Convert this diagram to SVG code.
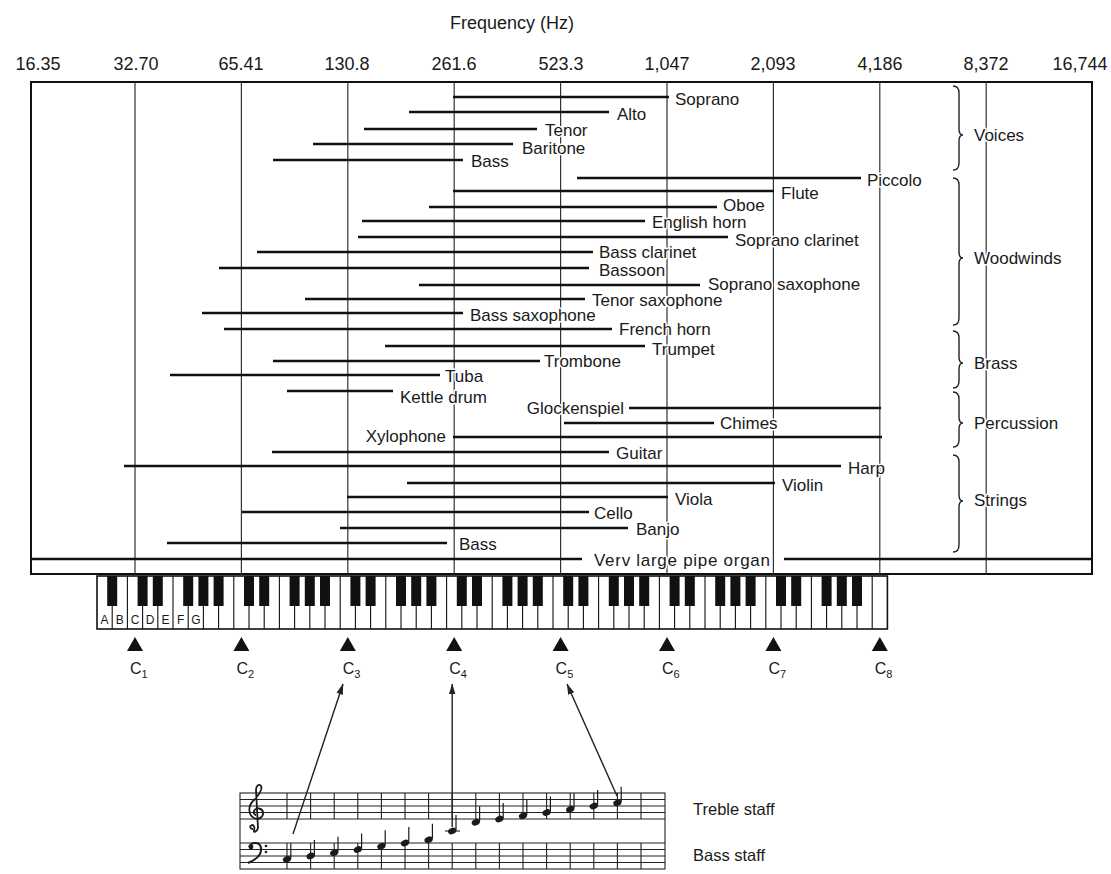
<svg xmlns="http://www.w3.org/2000/svg" width="1111" height="874" viewBox="0 0 1111 874">
<defs>
<style>
text{font-family:"Liberation Sans",Arial,Helvetica,sans-serif;fill:#1a1a1a}
.ax{font-size:18px;text-anchor:middle}
.lb{font-size:17px;paint-order:stroke;stroke:#fff;stroke-width:3px;stroke-linejoin:round}
.end{text-anchor:end}
.rng{stroke:#111;stroke-width:2.6;fill:none}
.grid{stroke:#333;stroke-width:1.2;fill:none}
.frame{stroke:#111;stroke-width:2;fill:none}
.brace{fill:none;stroke:#222;stroke-width:1.4}
.key{font-size:12px;text-anchor:middle}
.cl{font-size:16px}
.cs{font-size:11px}
.bk{fill:#111}
.tri{fill:#111}
.staff{stroke:#222;stroke-width:1.1;fill:none}
.conn{stroke:#222;stroke-width:1.4;fill:none;marker-end:url(#ah)}
.sl{font-size:16.5px}
</style>
<marker id="ah" viewBox="0 0 10 10" refX="9.5" refY="5" markerWidth="11" markerHeight="11" markerUnits="userSpaceOnUse" orient="auto"><path d="M0,2 L10,5 L0,8 z" fill="#222"/></marker>
<g id="q"><ellipse rx="4.3" ry="3.1" transform="rotate(-25)" fill="#1a1a1a"/><path d="M3.8,-1 V-16" stroke="#1a1a1a" stroke-width="1.2"/></g>
</defs>
<rect width="1111" height="874" fill="#fff"/>

<g id="axis">
<text x="512" y="29" class="ax">Frequency (Hz)</text>
<text x="38" y="70" class="ax">16.35</text>
<text x="136" y="70" class="ax">32.70</text>
<text x="241" y="70" class="ax">65.41</text>
<text x="347" y="70" class="ax">130.8</text>
<text x="454" y="70" class="ax">261.6</text>
<text x="561" y="70" class="ax">523.3</text>
<text x="667" y="70" class="ax">1,047</text>
<text x="773" y="70" class="ax">2,093</text>
<text x="880" y="70" class="ax">4,186</text>
<text x="986" y="70" class="ax">8,372</text>
<text x="1080" y="70" class="ax">16,744</text>
</g>

<g id="frame">
<rect x="31" y="82" width="1061" height="492" class="frame"/>
<path class="grid" d="M135,82V574M241.4,82V574M347.8,82V574M454.2,82V574M560.6,82V574M667,82V574M773.4,82V574M879.8,82V574M986.2,82V574"/>
</g>

<g id="ranges">
<g id="soprano"><path class="rng" d="M453,97H669"/><text class="lb" x="675" y="105">Soprano</text></g>
<g id="alto"><path class="rng" d="M409,112H609"/><text class="lb" x="617" y="120">Alto</text></g>
<g id="tenor"><path class="rng" d="M364,129H537"/><text class="lb" x="545" y="136">Tenor</text></g>
<g id="baritone"><path class="rng" d="M313,144H513"/><text class="lb" x="522" y="154">Baritone</text></g>
<g id="bass-voice"><path class="rng" d="M273,160H463"/><text class="lb" x="471" y="167">Bass</text></g>
<g id="piccolo"><path class="rng" d="M577,178H861"/><text class="lb" x="867" y="186">Piccolo</text></g>
<g id="flute"><path class="rng" d="M453,191H774"/><text class="lb" x="781" y="199">Flute</text></g>
<g id="oboe"><path class="rng" d="M429,207H717"/><text class="lb" x="723" y="211">Oboe</text></g>
<g id="english-horn"><path class="rng" d="M362,221H645"/><text class="lb" x="652" y="228">English horn</text></g>
<g id="soprano-clarinet"><path class="rng" d="M358,237H728"/><text class="lb" x="735" y="246">Soprano clarinet</text></g>
<g id="bass-clarinet"><path class="rng" d="M257,252H593"/><text class="lb" x="599" y="258">Bass clarinet</text></g>
<g id="bassoon"><path class="rng" d="M219,268H589"/><text class="lb" x="599" y="276">Bassoon</text></g>
<g id="soprano-saxophone"><path class="rng" d="M419,285H700"/><text class="lb" x="708" y="290">Soprano saxophone</text></g>
<g id="tenor-saxophone"><path class="rng" d="M305,299H585"/><text class="lb" x="592" y="306">Tenor saxophone</text></g>
<g id="bass-saxophone"><path class="rng" d="M202,313H463"/><text class="lb" x="470" y="321">Bass saxophone</text></g>
<g id="french-horn"><path class="rng" d="M224,329H612"/><text class="lb" x="619" y="335">French horn</text></g>
<g id="trumpet"><path class="rng" d="M385,346H645"/><text class="lb" x="652" y="355">Trumpet</text></g>
<g id="trombone"><path class="rng" d="M273,361H540"/><text class="lb" x="544" y="367">Trombone</text></g>
<g id="tuba"><path class="rng" d="M170,375H440"/><text class="lb" x="445" y="382">Tuba</text></g>
<g id="kettle-drum"><path class="rng" d="M287,391H393"/><text class="lb" x="400" y="403">Kettle drum</text></g>
<g id="glockenspiel"><path class="rng" d="M629,408H881"/><text class="lb end" x="624" y="414">Glockenspiel</text></g>
<g id="chimes"><path class="rng" d="M564,423H714"/><text class="lb" x="720" y="429">Chimes</text></g>
<g id="xylophone"><path class="rng" d="M453,437H882"/><text class="lb end" x="446" y="442">Xylophone</text></g>
<g id="guitar"><path class="rng" d="M272,452H609"/><text class="lb" x="616" y="459">Guitar</text></g>
<g id="harp"><path class="rng" d="M124,466H841"/><text class="lb" x="848" y="474">Harp</text></g>
<g id="violin"><path class="rng" d="M407,483H775"/><text class="lb" x="782" y="491">Violin</text></g>
<g id="viola"><path class="rng" d="M347,497H668"/><text class="lb" x="675" y="505">Viola</text></g>
<g id="cello"><path class="rng" d="M242,512H589"/><text class="lb" x="594" y="519">Cello</text></g>
<g id="banjo"><path class="rng" d="M340,528H628"/><text class="lb" x="636" y="535">Banjo</text></g>
<g id="bass-string"><path class="rng" d="M167,543H447"/><text class="lb" x="459" y="550">Bass</text></g>
<g id="pipe-organ"><path class="rng" d="M31,559H582M784,559H1092"/><text class="lb" x="594" y="566" textLength="176">Verv large pipe organ</text></g>
</g>

<g id="groups">
<g id="voices"><path class="brace" d="M953,86 C957,86 959,88 959,93 L959,129 C959,133 960,135 963,135 C960,135 959,137 959,141 L959,163 C959,168 957,170 953,170"/><text class="lb" x="974" y="141">Voices</text></g>
<g id="woodwinds"><path class="brace" d="M953,178 C957,178 959,180 959,185 L959,252 C959,256 960,258 963,258 C960,258 959,260 959,264 L959,318 C959,323 957,325 953,325"/><text class="lb" x="974" y="264">Woodwinds</text></g>
<g id="brass"><path class="brace" d="M953,331 C957,331 959,333 959,338 L959,357 C959,361 960,363 963,363 C960,363 959,365 959,369 L959,381 C959,386 957,388 953,388"/><text class="lb" x="974" y="369">Brass</text></g>
<g id="percussion"><path class="brace" d="M953,392 C957,392 959,394 959,399 L959,417 C959,421 960,423 963,423 C960,423 959,425 959,429 L959,440 C959,445 957,447 953,447"/><text class="lb" x="974" y="429">Percussion</text></g>
<g id="strings"><path class="brace" d="M953,455 C957,455 959,457 959,462 L959,495 C959,499 960,501 963,501 C960,501 959,503 959,507 L959,545 C959,550 957,552 953,552"/><text class="lb" x="974" y="506">Strings</text></g>
</g>

<g id="keyboard">
<rect x="97" y="576" width="790.4" height="53" fill="#fff" stroke="#111" stroke-width="1.6"/>
<path stroke="#111" stroke-width="1.1" d="M112.2,576V629M127.4,576V629M142.6,576V629M157.8,576V629M173,576V629M188.2,576V629M203.4,576V629M218.6,576V629M233.8,576V629M249,576V629M264.2,576V629M279.4,576V629M294.6,576V629M309.8,576V629M325,576V629M340.2,576V629M355.4,576V629M370.6,576V629M385.8,576V629M401,576V629M416.2,576V629M431.4,576V629M446.6,576V629M461.8,576V629M477,576V629M492.2,576V629M507.4,576V629M522.6,576V629M537.8,576V629M553,576V629M568.2,576V629M583.4,576V629M598.6,576V629M613.8,576V629M629,576V629M644.2,576V629M659.4,576V629M674.6,576V629M689.8,576V629M705,576V629M720.2,576V629M735.4,576V629M750.6,576V629M765.8,576V629M781,576V629M796.2,576V629M811.4,576V629M826.6,576V629M841.8,576V629M857,576V629M872.2,576V629"/>
<g class="bk">
<rect x="107.2" y="576" width="10" height="30"/>
<rect x="137.6" y="576" width="10" height="30"/><rect x="152.8" y="576" width="10" height="30"/><rect x="183.2" y="576" width="10" height="30"/><rect x="198.4" y="576" width="10" height="30"/><rect x="213.6" y="576" width="10" height="30"/>
<rect x="244" y="576" width="10" height="30"/><rect x="259.2" y="576" width="10" height="30"/><rect x="289.6" y="576" width="10" height="30"/><rect x="304.8" y="576" width="10" height="30"/><rect x="320" y="576" width="10" height="30"/>
<rect x="350.4" y="576" width="10" height="30"/><rect x="365.6" y="576" width="10" height="30"/><rect x="396" y="576" width="10" height="30"/><rect x="411.2" y="576" width="10" height="30"/><rect x="426.4" y="576" width="10" height="30"/>
<rect x="456.8" y="576" width="10" height="30"/><rect x="472" y="576" width="10" height="30"/><rect x="502.4" y="576" width="10" height="30"/><rect x="517.6" y="576" width="10" height="30"/><rect x="532.8" y="576" width="10" height="30"/>
<rect x="563.2" y="576" width="10" height="30"/><rect x="578.4" y="576" width="10" height="30"/><rect x="608.8" y="576" width="10" height="30"/><rect x="624" y="576" width="10" height="30"/><rect x="639.2" y="576" width="10" height="30"/>
<rect x="669.6" y="576" width="10" height="30"/><rect x="684.8" y="576" width="10" height="30"/><rect x="715.2" y="576" width="10" height="30"/><rect x="730.4" y="576" width="10" height="30"/><rect x="745.6" y="576" width="10" height="30"/>
<rect x="776" y="576" width="10" height="30"/><rect x="791.2" y="576" width="10" height="30"/><rect x="821.6" y="576" width="10" height="30"/><rect x="836.8" y="576" width="10" height="30"/><rect x="852" y="576" width="10" height="30"/>
</g>
<text class="key" x="104.6" y="624">A</text><text class="key" x="119.8" y="624">B</text><text class="key" x="135" y="624">C</text><text class="key" x="150.2" y="624">D</text><text class="key" x="165.4" y="624">E</text><text class="key" x="180.6" y="624">F</text><text class="key" x="195.8" y="624">G</text>
</g>

<g id="c-markers">
<g id="c1"><polygon class="tri" points="135,637 127,651 143,651"/><text x="130" y="674"><tspan class="cl">C</tspan><tspan class="cs" dy="4">1</tspan></text></g>
<g id="c2"><polygon class="tri" points="241.4,637 233.4,651 249.4,651"/><text x="236.4" y="674"><tspan class="cl">C</tspan><tspan class="cs" dy="4">2</tspan></text></g>
<g id="c3"><polygon class="tri" points="347.8,637 339.8,651 355.8,651"/><text x="342.8" y="674"><tspan class="cl">C</tspan><tspan class="cs" dy="4">3</tspan></text></g>
<g id="c4"><polygon class="tri" points="454.2,637 446.2,651 462.2,651"/><text x="449.2" y="674"><tspan class="cl">C</tspan><tspan class="cs" dy="4">4</tspan></text></g>
<g id="c5"><polygon class="tri" points="560.6,637 552.6,651 568.6,651"/><text x="555.6" y="674"><tspan class="cl">C</tspan><tspan class="cs" dy="4">5</tspan></text></g>
<g id="c6"><polygon class="tri" points="667,637 659,651 675,651"/><text x="662" y="674"><tspan class="cl">C</tspan><tspan class="cs" dy="4">6</tspan></text></g>
<g id="c7"><polygon class="tri" points="773.4,637 765.4,651 781.4,651"/><text x="768.4" y="674"><tspan class="cl">C</tspan><tspan class="cs" dy="4">7</tspan></text></g>
<g id="c8"><polygon class="tri" points="879.8,637 871.8,651 887.8,651"/><text x="874.8" y="674"><tspan class="cl">C</tspan><tspan class="cs" dy="4">8</tspan></text></g>
</g>

<g id="staff-diagram">
<rect x="240" y="793" width="425" height="76" class="staff" stroke-width="1.5"/>
<path class="staff" d="M240,799.5H665M240,806H665M240,812.5H665M240,819H665M240,843H665M240,849.5H665M240,856H665M240,862.5H665"/>
<path class="staff" d="M287,793V819M310.6,793V819M334.2,793V819M357.8,793V819M381.4,793V819M405,793V819M428.6,793V819M452.2,793V819M475.8,793V819M499.4,793V819M523,793V819M546.6,793V819M570.2,793V819M593.8,793V819M617.4,793V819M641,793V819M287,843V869M310.6,843V869M334.2,843V869M357.8,843V869M381.4,843V869M405,843V869M428.6,843V869M452.2,843V869M475.8,843V869M499.4,843V869M523,843V869M546.6,843V869M570.2,843V869M593.8,843V869M617.4,843V869M641,843V869"/>
<path d="M253,829 C250,829 249,826 252,825 C254,825 255,828 254,830 C253,833 257,832 258,828 L256,790 C256,786 259,783 261,786 C263,790 258,796 253,801 C248,806 248,815 254,818 C259,820 264,817 263,812 C262,808 256,807 254,811 C253,813 255,815 256,815" fill="none" stroke="#1a1a1a" stroke-width="1.8"/>
<circle cx="251" cy="847" r="2.4" fill="#1a1a1a"/>
<path d="M249,847 C251,842 260,841 261,848 C262,855 255,860 248,863" fill="none" stroke="#1a1a1a" stroke-width="2"/>
<circle cx="266" cy="846" r="1.3" fill="#1a1a1a"/><circle cx="266" cy="852" r="1.3" fill="#1a1a1a"/>
<path class="staff" d="M445,831H460"/>
<use href="#q" x="287" y="859.25"/><use href="#q" x="310.6" y="856"/><use href="#q" x="334.2" y="852.75"/><use href="#q" x="357.8" y="849.5"/><use href="#q" x="381.4" y="846.25"/><use href="#q" x="405" y="843"/><use href="#q" x="428.6" y="839.75"/><use href="#q" x="452.2" y="831"/><use href="#q" x="475.8" y="822.25"/><use href="#q" x="499.4" y="819"/><use href="#q" x="523" y="815.75"/><use href="#q" x="546.6" y="812.5"/><use href="#q" x="570.2" y="809.25"/><use href="#q" x="593.8" y="806"/><use href="#q" x="617.4" y="802.75"/>
<text class="sl" x="693" y="815">Treble staff</text>
<text class="sl" x="693" y="861">Bass staff</text>
</g>

<g id="connectors">
<path class="conn" d="M293,834 L343,684"/>
<path class="conn" d="M452.2,827 L452.2,684"/>
<path class="conn" d="M617,796 L567,684"/>
</g>
</svg>
